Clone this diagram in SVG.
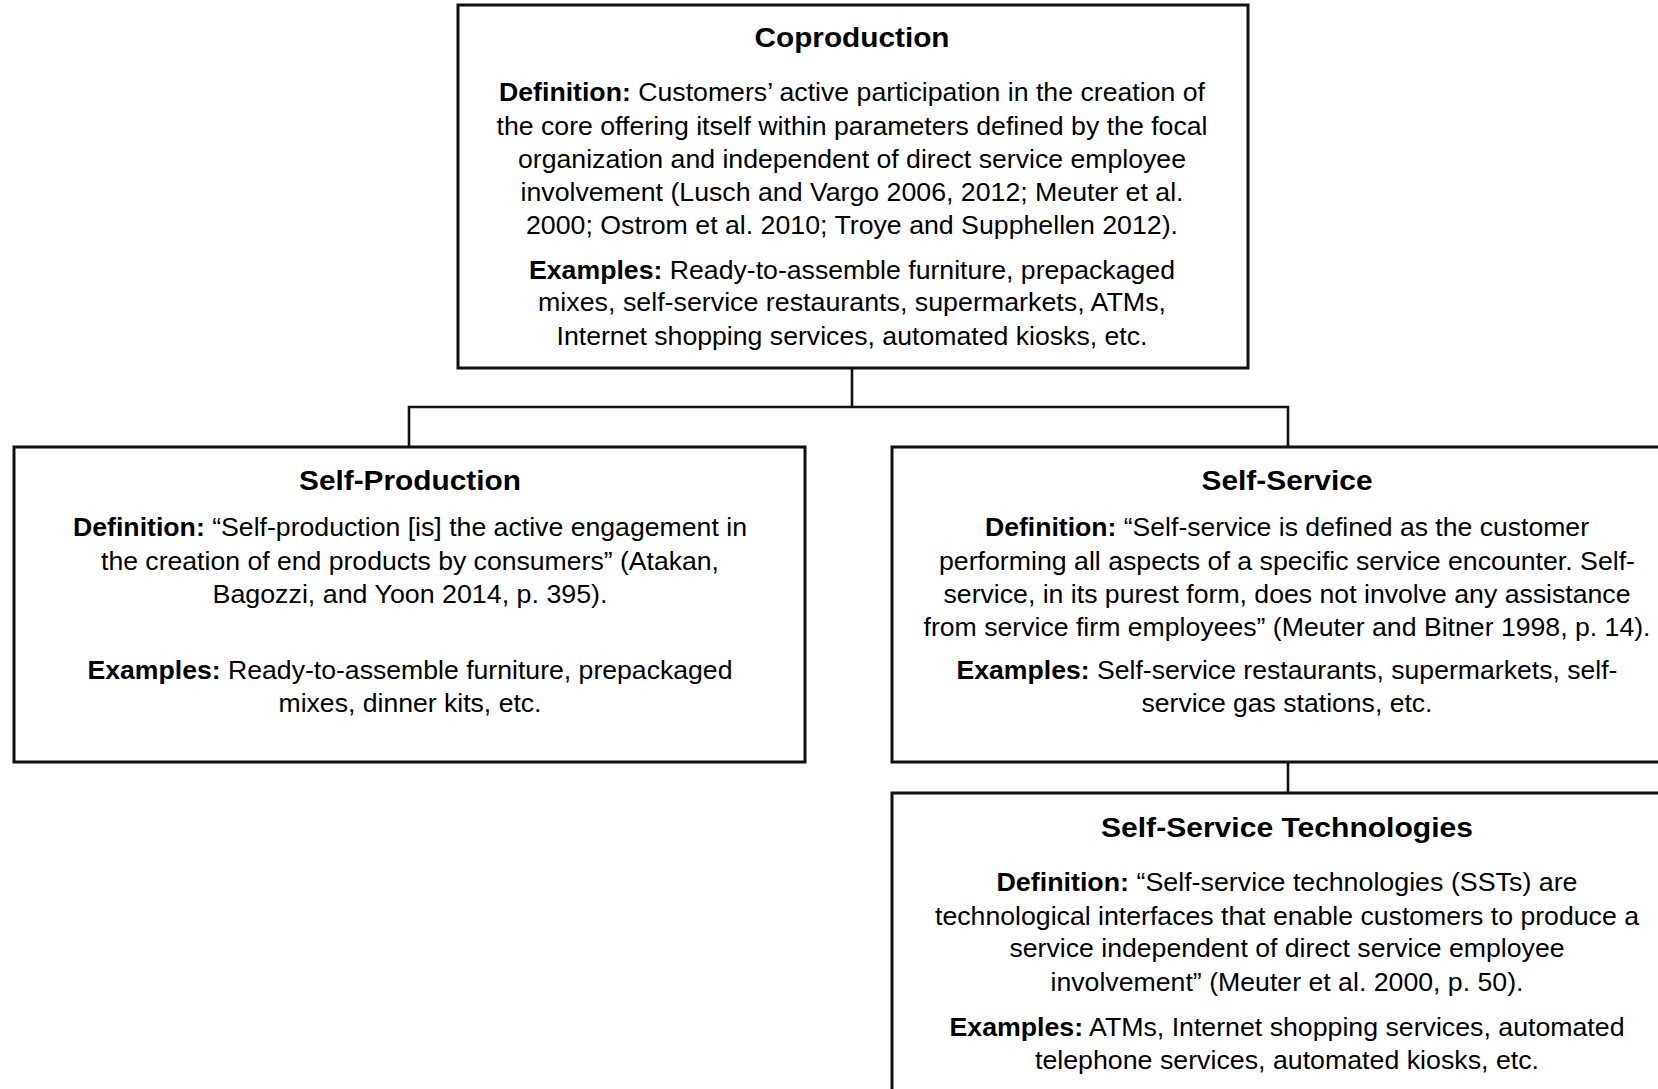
<svg xmlns="http://www.w3.org/2000/svg" width="1658" height="1089" viewBox="0 0 1658 1089">
<style>
.box{fill:#fff;stroke:#111;stroke-width:3}
.con{fill:none;stroke:#111;stroke-width:2.6}
text{font-family:"Liberation Sans",Arial,sans-serif;fill:#000;text-anchor:middle}
.t{font-size:28.5px;font-weight:bold}
.b{font-size:25.5px}
.k{font-weight:bold}
</style>
<rect width="1658" height="1089" fill="#fff"/>
<g id="connectors">
<path class="con" d="M852 368V407M409 447V407H1288V447M1288 762V793"/>
</g>
<g id="coproduction">
<rect class="box" x="458" y="5" width="790" height="363"/>
<text class="t" x="852" y="47" textLength="195" lengthAdjust="spacingAndGlyphs">Coproduction</text>
<text class="b" x="852" y="101" textLength="706" lengthAdjust="spacingAndGlyphs"><tspan class="k">Definition:</tspan> Customers’ active participation in the creation of</text>
<text class="b" x="852" y="135" textLength="711" lengthAdjust="spacingAndGlyphs">the core offering itself within parameters defined by the focal</text>
<text class="b" x="852" y="168" textLength="668" lengthAdjust="spacingAndGlyphs">organization and independent of direct service employee</text>
<text class="b" x="852" y="201" textLength="663" lengthAdjust="spacingAndGlyphs">involvement (Lusch and Vargo 2006, 2012; Meuter et al.</text>
<text class="b" x="852" y="234" textLength="652" lengthAdjust="spacingAndGlyphs">2000; Ostrom et al. 2010; Troye and Supphellen 2012).</text>
<text class="b" x="852" y="279" textLength="646" lengthAdjust="spacingAndGlyphs"><tspan class="k">Examples:</tspan> Ready-to-assemble furniture, prepackaged</text>
<text class="b" x="852" y="311" textLength="628" lengthAdjust="spacingAndGlyphs">mixes, self-service restaurants, supermarkets, ATMs,</text>
<text class="b" x="852" y="345" textLength="591" lengthAdjust="spacingAndGlyphs">Internet shopping services, automated kiosks, etc.</text>
</g>
<g id="self-production">
<rect class="box" x="14" y="447" width="791" height="315"/>
<text class="t" x="410" y="490" textLength="222" lengthAdjust="spacingAndGlyphs">Self-Production</text>
<text class="b" x="410" y="536" textLength="674" lengthAdjust="spacingAndGlyphs"><tspan class="k">Definition:</tspan> “Self-production [is] the active engagement in</text>
<text class="b" x="410" y="570" textLength="618" lengthAdjust="spacingAndGlyphs">the creation of end products by consumers” (Atakan,</text>
<text class="b" x="410" y="603" textLength="395" lengthAdjust="spacingAndGlyphs">Bagozzi, and Yoon 2014, p. 395).</text>
<text class="b" x="410" y="679" textLength="645" lengthAdjust="spacingAndGlyphs"><tspan class="k">Examples:</tspan> Ready-to-assemble furniture, prepackaged</text>
<text class="b" x="410" y="712" textLength="263" lengthAdjust="spacingAndGlyphs">mixes, dinner kits, etc.</text>
</g>
<g id="self-service">
<rect class="box" x="892" y="447" width="790" height="315"/>
<text class="t" x="1287" y="490" textLength="171" lengthAdjust="spacingAndGlyphs">Self-Service</text>
<text class="b" x="1287" y="536" textLength="604" lengthAdjust="spacingAndGlyphs"><tspan class="k">Definition:</tspan> “Self-service is defined as the customer</text>
<text class="b" x="1287" y="570" textLength="696" lengthAdjust="spacingAndGlyphs">performing all aspects of a specific service encounter. Self-</text>
<text class="b" x="1287" y="603" textLength="687" lengthAdjust="spacingAndGlyphs">service, in its purest form, does not involve any assistance</text>
<text class="b" x="1287" y="636" textLength="727" lengthAdjust="spacingAndGlyphs">from service firm employees” (Meuter and Bitner 1998, p. 14).</text>
<text class="b" x="1287" y="679" textLength="661" lengthAdjust="spacingAndGlyphs"><tspan class="k">Examples:</tspan> Self-service restaurants, supermarkets, self-</text>
<text class="b" x="1287" y="712" textLength="291" lengthAdjust="spacingAndGlyphs">service gas stations, etc.</text>
</g>
<g id="self-service-technologies">
<rect class="box" x="892" y="793" width="790" height="400"/>
<text class="t" x="1287" y="837" textLength="372" lengthAdjust="spacingAndGlyphs">Self-Service Technologies</text>
<text class="b" x="1287" y="891" textLength="581" lengthAdjust="spacingAndGlyphs"><tspan class="k">Definition:</tspan> “Self-service technologies (SSTs) are</text>
<text class="b" x="1287" y="925" textLength="704" lengthAdjust="spacingAndGlyphs">technological interfaces that enable customers to produce a</text>
<text class="b" x="1287" y="957" textLength="555" lengthAdjust="spacingAndGlyphs">service independent of direct service employee</text>
<text class="b" x="1287" y="991" textLength="473" lengthAdjust="spacingAndGlyphs">involvement” (Meuter et al. 2000, p. 50).</text>
<text class="b" x="1287" y="1036" textLength="675" lengthAdjust="spacingAndGlyphs"><tspan class="k">Examples:</tspan> ATMs, Internet shopping services, automated</text>
<text class="b" x="1287" y="1069" textLength="504" lengthAdjust="spacingAndGlyphs">telephone services, automated kiosks, etc.</text>
</g>
</svg>
